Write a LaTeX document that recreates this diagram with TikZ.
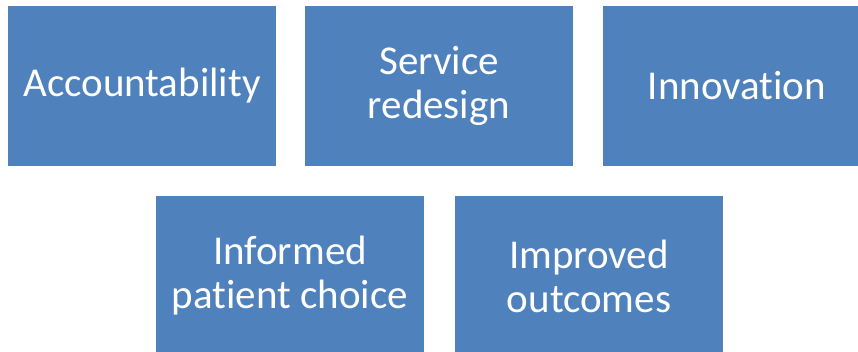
\documentclass[tikz,border=0pt]{standalone}
\usepackage{fontspec}
\setmainfont{Carlito}[Ligatures=NoCommon]
\usepackage{tikz}
\usetikzlibrary{shapes.geometric}

\definecolor{niebieski}{RGB}{79,129,189}
\tikzset{pole/.style={rectangle, fill=niebieski, text=white, inner sep=0pt,
		minimum width=268pt, minimum height=160pt, align=center,
		font=\fontsize{41}{44}\selectfont}}

\begin{document}
\begin{tikzpicture}[x=1pt, y=-1pt]
		\clip (0,0) rectangle (858,351);
		\fill[white] (0,0) rectangle (858,351);
		
		% gorny rzad
		\node[pole] (acc) at (142,86) {Accountability};
		\node[pole] (srv) at (439,86) {Service\\redesign};
		\node[pole] (inn) at (737,86) {Innovation};
		
		% dolny rzad
		\node[pole] (inf) at (290,276) {Informed\\patient choice};
		\node[pole] (imp) at (589,276) {Improved\\outcomes};
	\end{tikzpicture}
\end{document}
